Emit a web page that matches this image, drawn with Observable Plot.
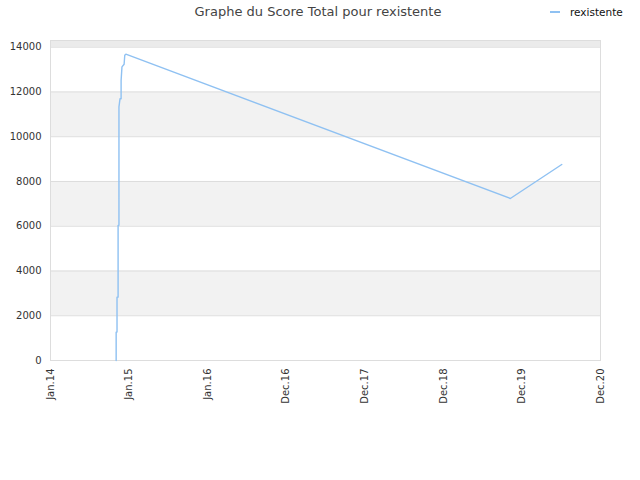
<!DOCTYPE html>
<html><head><meta charset="utf-8">
<script src="https://cdn.jsdelivr.net/npm/d3@7"></script>
<script src="https://cdn.jsdelivr.net/npm/@observablehq/plot@0.6"></script>
<style>
body{margin:0;background:#fff;font-family:"DejaVu Sans",sans-serif;}
#wrap{position:relative;width:640px;height:480px;}
#title{position:absolute;left:0;top:4px;width:636px;text-align:center;font-size:13px;color:#444;}
#legend{position:absolute;left:550px;top:6px;font-size:10.5px;color:#111;display:flex;align-items:center;}
#legend span.sw{display:inline-block;width:10px;height:2px;background:#8fc1f2;margin-right:10px;}
</style></head>
<body><div id="wrap"><div id="title">Graphe du Score Total pour rexistente</div>
<div id="legend"><span class="sw"></span><span>rexistente</span></div></div>
<script>
const seriesName = "rexistente";
const dates = ["2014-11-02","2014-11-02","2014-11-06","2014-11-06","2014-11-11","2014-11-11","2014-11-15","2014-11-15","2014-11-20","2014-11-25","2014-11-25","2014-11-29","2014-12-09","2014-12-12","2014-12-17","2019-11-07","2020-07-03"];
const scores = [0,1270,1270,2830,2830,6040,6040,11330,11700,11700,12520,13120,13240,13640,13690,7240,8760];
const yTicks = [0,2000,4000,6000,8000,10000,12000,14000];
const yMax = 14300;
const xTickDates = ["2014-01-01","2015-01-01","2016-01-01","2016-12-31","2017-12-31","2018-12-31","2019-12-31","2020-12-30"];
const xTickLabels = ["Jan.14","Jan.15","Jan.16","Dec.16","Dec.17","Dec.18","Dec.19","Dec.20"];

const data = dates.map((d,i)=>({date:new Date(d+"T00:00:00Z"), score:scores[i]}));
const xTicks = xTickDates.map(d=>new Date(d+"T00:00:00Z"));
const bands = yTicks.map((v,i)=>({y1:v, y2: i+1<yTicks.length? yTicks[i+1]: yMax, i}));
const fmtX = (d)=>xTickLabels[xTicks.findIndex(t=>+t===+d)];

const chart = Plot.plot({
  width:640, height:480,
  marginLeft:50, marginRight:40, marginTop:40, marginBottom:120,
  style:{fontFamily:"DejaVu Sans, sans-serif", fontSize:"10px", color:"#333", background:"#fff"},
  x:{type:"utc", domain:[xTicks[0], xTicks[xTicks.length-1]]},
  y:{domain:[0,yMax]},
  marks:[
    Plot.rectY(bands.filter(b=>b.i%2===1 && b.y1<14000), {x1:xTicks[0], x2:xTicks[xTicks.length-1], y1:"y1", y2:"y2", fill:"#f2f2f2"}),
    Plot.rectY(bands.filter(b=>b.y1>=14000), {x1:xTicks[0], x2:xTicks[xTicks.length-1], y1:"y1", y2:"y2", fill:"#ebebeb"}),
    Plot.ruleY(yTicks, {stroke:"#dddddd", strokeWidth:1}),
    Plot.frame({stroke:"#dddddd"}),
    Plot.axisX({ticks:xTicks, tickFormat:fmtX, tickRotate:-90, tickSize:0, tickPadding:8, label:null, fill:"#333"}),
    Plot.axisY({ticks:yTicks, tickSize:0, tickPadding:9, label:null, fill:"#333", tickFormat:d=>String(d)}),
    Plot.line(data, {x:"date", y:"score", stroke:"#8fc1f2", strokeWidth:1.4})
  ]
});
document.getElementById("wrap").appendChild(chart);
chart.style.position="absolute"; chart.style.left="0"; chart.style.top="0";
document.getElementById("wrap").appendChild(document.getElementById("title"));
document.getElementById("wrap").appendChild(document.getElementById("legend"));
</script></body></html>
